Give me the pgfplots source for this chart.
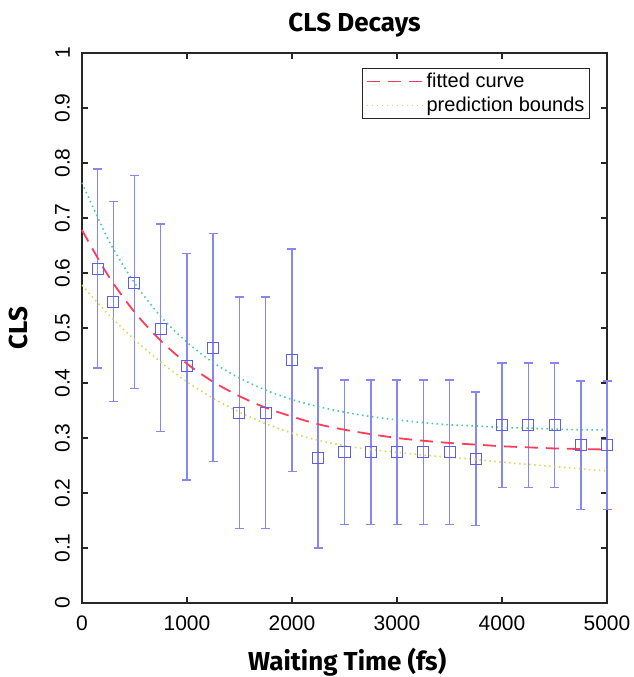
\documentclass[border=0pt]{standalone}
\usepackage{fontspec}
\setmainfont{Liberation Sans}
\newfontfamily\titlefont{Fira Sans}
\usepackage{pgfplots}
\pgfplotsset{compat=1.18}
\definecolor{errblue}{RGB}{135,135,242}
\definecolor{mkblue}{RGB}{95,95,230}
\definecolor{fitred}{RGB}{255,60,90}
\definecolor{bndcyan}{RGB}{70,200,170}
\definecolor{bndyel}{RGB}{215,215,95}
\begin{document}
\begin{tikzpicture}
\begin{axis}[
  scale only axis, width=525pt, height=550pt,
  xmin=0, xmax=5000, ymin=0, ymax=1,
  clip=false,
  axis line style={line width=1.3pt, black!85},
  every tick/.style={line width=1.1pt, black!85},
  major tick length=6pt, tick align=inside,
  xtick={0,1000,...,5000},
  ytick={0,0.1,0.2,0.3,0.4,0.5,0.6,0.7,0.8,0.9,1},
  /pgf/number format/assume math mode=true,
  /pgf/number format/1000 sep={},
  /pgf/number format/fixed,
  tick label style={font=\fontsize{21}{23}\selectfont},
  xticklabel style={anchor=north, inner ysep=13pt},
  yticklabel style={rotate=90, anchor=south, inner ysep=12pt},
  title={CLS Decays},
  title style={font=\titlefont\bfseries\fontsize{26}{28}\selectfont, at={(axis description cs:0.519,1)}, anchor=base, yshift=15pt},
  xlabel={Waiting Time (fs)},
  xlabel style={font=\titlefont\bfseries\fontsize{26}{28}\selectfont, at={(axis description cs:0.505,0)}, anchor=base, yshift=-67pt},
  ylabel={CLS},
  ylabel style={font=\titlefont\bfseries\fontsize{26}{28}\selectfont, at={(axis description cs:-0.1029,0.5)}, rotate=0, anchor=base},
  legend style={at={(axis description cs:0.9676,0.9727)}, anchor=north east,
    font=\fontsize{20}{22}\selectfont, draw=black!85, line width=1pt,
    inner xsep=3pt, inner ysep=3pt, row sep=4pt},
  legend cell align=left,
  legend image code/.code={\draw[#1] (0pt,0pt) -- (57pt,0pt);},
]
\addplot[forget plot, only marks, mark=square, mark size=5.5pt, mark options={draw=mkblue, line width=1pt, fill=none},
  error bars/.cd, y dir=both, y explicit,
  error bar style={line width=1.5pt, errblue},
  error mark options={rotate=90, mark size=4.5pt, line width=1.5pt, errblue}]
  coordinates {
  (150,0.607) += (0,0.182) -= (0,0.180)
  (300,0.548) += (0,0.182) -= (0,0.182)
  (500,0.582) += (0,0.195) -= (0,0.192)
  (750,0.499) += (0,0.190) -= (0,0.187)
  (1000,0.430) += (0,0.205) -= (0,0.206)
  (1250,0.464) += (0,0.208) -= (0,0.207)
  (1500,0.346) += (0,0.210) -= (0,0.211)
  (1750,0.346) += (0,0.210) -= (0,0.211)
  (2000,0.442) += (0,0.202) -= (0,0.203)
  (2250,0.263) += (0,0.164) -= (0,0.163)
  (2500,0.275) += (0,0.130) -= (0,0.132)
  (2750,0.275) += (0,0.130) -= (0,0.132)
  (3000,0.275) += (0,0.130) -= (0,0.132)
  (3250,0.275) += (0,0.130) -= (0,0.132)
  (3500,0.275) += (0,0.130) -= (0,0.132)
  (3750,0.262) += (0,0.122) -= (0,0.121)
  (4000,0.323) += (0,0.113) -= (0,0.113)
  (4250,0.323) += (0,0.113) -= (0,0.113)
  (4500,0.323) += (0,0.113) -= (0,0.113)
  (4750,0.287) += (0,0.117) -= (0,0.117)
  (5000,0.287) += (0,0.117) -= (0,0.117)
  };
\addplot[no marks, smooth, fitred, line width=1.8pt, dash pattern=on 13pt off 8pt] coordinates {
  (0,0.678) (250,0.595) (500,0.529) (750,0.477) (1000,0.435) (1250,0.402)
  (1500,0.376) (1750,0.355) (2000,0.339) (2250,0.325) (2500,0.315) (2750,0.307)
  (3000,0.300) (3250,0.295) (3500,0.291) (3750,0.288) (4000,0.285) (4250,0.283)
  (4500,0.281) (4750,0.280) (5000,0.279)};
\addlegendentry{fitted curve}
\addplot[no marks, smooth, bndyel, line width=1.6pt, dash pattern=on 1.5pt off 3.5pt] coordinates {
  (0,0.578) (250,0.525) (500,0.479) (750,0.438) (1000,0.402) (1250,0.372)
  (1500,0.347) (1750,0.326) (2000,0.309) (2250,0.296) (2500,0.286) (2750,0.279)
  (3000,0.274) (3250,0.269) (3500,0.265) (3750,0.261) (4000,0.256) (4250,0.252)
  (4500,0.248) (4750,0.244) (5000,0.240)};
\addlegendentry{prediction bounds}
\addplot[no marks, smooth, bndcyan, line width=1.6pt, dash pattern=on 1.5pt off 3.5pt, forget plot] coordinates {
  (0,0.764) (250,0.661) (500,0.582) (750,0.521) (1000,0.474) (1250,0.437)
  (1500,0.409) (1750,0.387) (2000,0.370) (2250,0.357) (2500,0.347) (2750,0.339)
  (3000,0.333) (3250,0.328) (3500,0.324) (3750,0.322) (4000,0.319) (4250,0.318)
  (4500,0.316) (4750,0.315) (5000,0.315)};
\end{axis}
\pgfresetboundingbox
\path ([shift={(-82pt,-74pt)}]current axis.south west) rectangle ([shift={(27pt,53pt)}]current axis.north east);
\end{tikzpicture}
\end{document}
